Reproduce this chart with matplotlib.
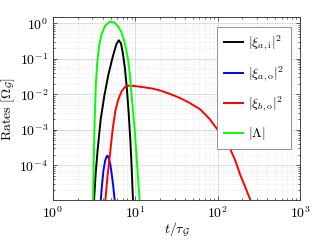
import matplotlib as mpl
import matplotlib.pyplot as plt
from matplotlib.ticker import LogLocator, NullFormatter

mpl.rcParams["font.family"] = "serif"
mpl.rcParams["font.serif"] = ["cmr10"]
mpl.rcParams["mathtext.fontset"] = "cm"
mpl.rcParams["axes.formatter.use_mathtext"] = True
mpl.rcParams["font.size"] = 10

# |xi_{a,i}|^2 (black)
t_ai = [3.15, 3.3, 3.5, 3.8, 4.2, 4.7, 5.3, 5.9, 6.3, 6.7, 7.1, 7.5, 7.9, 8.3, 8.7, 9.0, 9.37]
r_ai = [1e-5, 6e-5, 3e-4, 2e-3, 9e-3, 0.035, 0.11, 0.26, 0.33, 0.27, 0.13, 0.05, 0.014,
        3e-3, 5e-4, 1e-4, 1e-5]

# |xi_{a,o}|^2 (blue)
t_ao = [3.8, 3.95, 4.1, 4.3, 4.5, 4.6, 4.75, 4.95, 5.15, 5.4, 5.62]
r_ao = [1e-5, 3e-5, 7e-5, 1.35e-4, 1.8e-4, 1.85e-4, 1.6e-4, 1.1e-4, 6e-5, 2.5e-5, 1e-5]

# |xi_{b,o}|^2 (red)
t_bo = [4.32, 4.6, 4.89, 5.3, 5.72, 6.2, 6.8, 7.5, 8.3, 9.5, 12, 16, 20, 27, 35, 45, 61,
        80, 100, 120, 141, 165, 187, 215, 252]
r_bo = [1e-5, 5e-5, 1.8e-4, 1e-3, 3.4e-3, 7e-3, 0.012, 0.016, 0.0175, 0.0172, 0.016,
        0.0145, 0.0128, 0.01, 0.0078, 0.0058, 0.0038, 0.002, 1e-3, 5.5e-4, 3e-4,
        1.3e-4, 5.5e-5, 2.5e-5, 1e-5]

# |Lambda| (green)
t_lam = [3.06, 3.12, 3.21, 3.32, 3.45, 3.65, 3.9, 4.3, 4.89, 5.5, 6.1, 6.76, 7.4, 8.15,
         8.6, 9.0, 9.4, 9.9, 10.4, 10.9, 11.3]
r_lam = [1e-5, 1e-4, 2e-3, 0.02, 0.08, 0.25, 0.5, 0.85, 1.1, 1.05, 0.85, 0.57, 0.3, 0.1,
         0.035, 0.01, 3e-3, 8e-4, 1.5e-4, 3e-5, 1e-5]

labels = [r"$|\xi_{a,\mathrm{i}}|^2$", r"$|\xi_{a,\mathrm{o}}|^2$",
          r"$|\xi_{b,\mathrm{o}}|^2$", r"$|\Lambda|$"]

fig = plt.figure(figsize=(3.32, 2.4), dpi=100)
ax = fig.add_axes([0.1596, 0.1667, 0.744, 0.7625])

ax.plot(t_ai, r_ai, color="k", lw=1.4, label=labels[0])
ax.plot(t_ao, r_ao, color="#0000ff", lw=1.4, label=labels[1])
ax.plot(t_bo, r_bo, color="#ff0000", lw=1.4, label=labels[2])
ax.plot(t_lam, r_lam, color="#00ff00", lw=1.4, label=labels[3])

ax.set_xscale("log")
ax.set_yscale("log")
ax.set_xlim(1, 1e3)
ax.set_ylim(1e-5 * 1.05, 1.5)
ax.set_xticks([1, 10, 100, 1000])
ax.set_yticks([1e-4, 1e-3, 1e-2, 1e-1, 1])
ax.xaxis.set_minor_locator(LogLocator(base=10, subs=range(2, 10), numticks=20))
ax.yaxis.set_minor_locator(LogLocator(base=10, subs=range(2, 10), numticks=20))
ax.xaxis.set_minor_formatter(NullFormatter())
ax.yaxis.set_minor_formatter(NullFormatter())

ax.grid(True, which="major", color="#d9d9d9", lw=0.6)
ax.grid(True, which="minor", color="#e0e0e0", lw=0.5, linestyle=":")
ax.set_axisbelow(True)

for s in ax.spines.values():
    s.set_color("#262626")
    s.set_linewidth(0.6)
ax.tick_params(which="both", direction="in", top=True, right=True,
               color="#262626", width=0.5)
ax.tick_params(which="major", length=3)
ax.tick_params(which="minor", length=1.5)

ax.set_xlabel(r"$t/\tau_\mathcal{G}$", labelpad=0)
ax.set_ylabel(r"Rates $[\Omega_\mathcal{G}]$", labelpad=2)

leg = ax.legend(loc="upper right", bbox_to_anchor=(0.962, 0.945), fancybox=False,
                framealpha=1, edgecolor="#808080", handlelength=1.4,
                handletextpad=0.3, labelspacing=0.8, borderpad=0.5,
                borderaxespad=0.0, fontsize=10)
leg.get_frame().set_linewidth(0.6)

fig.savefig("out.png", dpi=100)
